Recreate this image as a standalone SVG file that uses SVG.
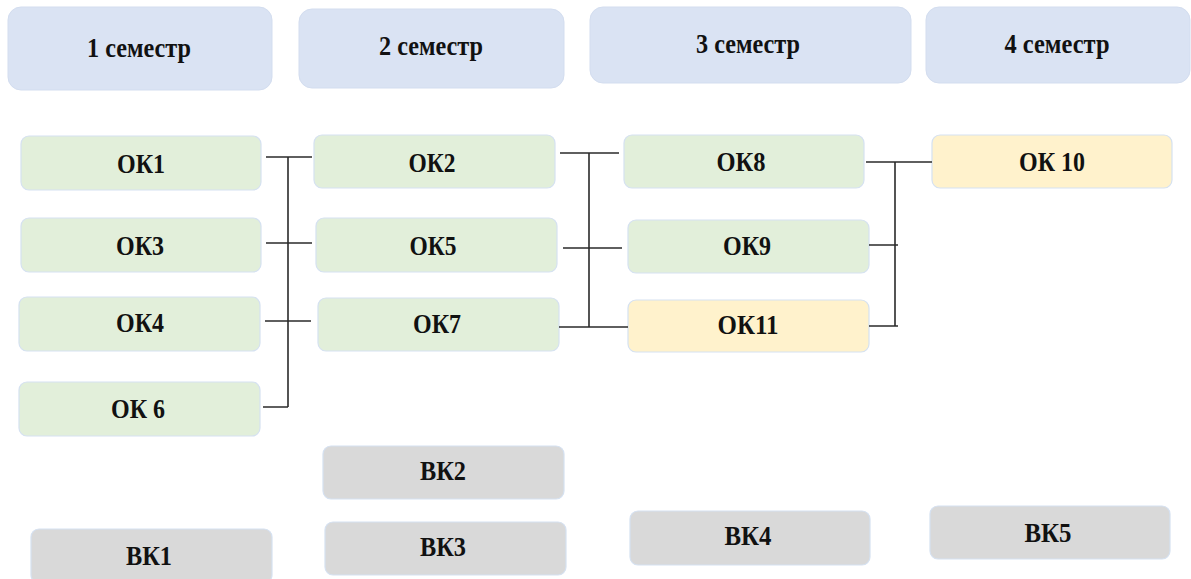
<svg xmlns="http://www.w3.org/2000/svg" width="1191" height="579" viewBox="0 0 1191 579">
<style>
.hdr{fill:#DAE3F3;stroke:#D3DDEF;stroke-width:1}
.ok{fill:#E2EFDA;stroke:#D5E1F1;stroke-width:1.2}
.yl{fill:#FFF2CC;stroke:#D5E1F1;stroke-width:1.2}
.vk{fill:#D9D9D9;stroke:#D5E1F1;stroke-width:1.2}
text{font-family:"Liberation Serif","DejaVu Serif",serif;font-weight:bold;font-size:27px;fill:#111;text-anchor:middle}
.ln{stroke:#2b2b2b;stroke-width:1.6;fill:none}
</style>
<rect width="1191" height="579" fill="#ffffff"/>
<g id="sem1"><rect class="hdr" x="8" y="7" width="264" height="83" rx="13"/><text x="139" y="57" textLength="104" lengthAdjust="spacingAndGlyphs">1 семестр</text></g>
<g id="sem2"><rect class="hdr" x="299" y="9" width="265" height="79" rx="13"/><text x="431" y="55" textLength="104" lengthAdjust="spacingAndGlyphs">2 семестр</text></g>
<g id="sem3"><rect class="hdr" x="590" y="7" width="321" height="76" rx="13"/><text x="748" y="53" textLength="104" lengthAdjust="spacingAndGlyphs">3 семестр</text></g>
<g id="sem4"><rect class="hdr" x="926" y="7" width="264" height="76" rx="13"/><text x="1057" y="53" textLength="105" lengthAdjust="spacingAndGlyphs">4 семестр</text></g>

<g id="ok1"><rect class="ok" x="21" y="136" width="240" height="54" rx="8"/><text x="141" y="173" textLength="48" lengthAdjust="spacingAndGlyphs">ОК1</text></g>
<g id="ok3"><rect class="ok" x="21" y="218" width="240" height="54" rx="8"/><text x="140" y="255" textLength="48" lengthAdjust="spacingAndGlyphs">ОК3</text></g>
<g id="ok4"><rect class="ok" x="19" y="297" width="241" height="54" rx="8"/><text x="140" y="332" textLength="48" lengthAdjust="spacingAndGlyphs">ОК4</text></g>
<g id="ok6"><rect class="ok" x="19" y="382" width="241" height="54" rx="8"/><text x="138" y="418" textLength="54" lengthAdjust="spacingAndGlyphs">ОК 6</text></g>
<g id="vk1"><rect class="vk" x="31" y="529" width="241" height="54" rx="8"/><text x="149" y="565" textLength="46" lengthAdjust="spacingAndGlyphs">ВК1</text></g>

<g id="ok2"><rect class="ok" x="314" y="135" width="241" height="53" rx="8"/><text x="432" y="172" textLength="47" lengthAdjust="spacingAndGlyphs">ОК2</text></g>
<g id="ok5"><rect class="ok" x="316" y="218" width="241" height="54" rx="8"/><text x="433" y="255" textLength="47" lengthAdjust="spacingAndGlyphs">ОК5</text></g>
<g id="ok7"><rect class="ok" x="318" y="298" width="241" height="53" rx="8"/><text x="437" y="333" textLength="48" lengthAdjust="spacingAndGlyphs">ОК7</text></g>
<g id="vk2"><rect class="vk" x="323" y="446" width="241" height="53" rx="8"/><text x="443" y="480" textLength="46" lengthAdjust="spacingAndGlyphs">ВК2</text></g>
<g id="vk3"><rect class="vk" x="325" y="522" width="241" height="53" rx="8"/><text x="443" y="556" textLength="46" lengthAdjust="spacingAndGlyphs">ВК3</text></g>

<g id="ok8"><rect class="ok" x="624" y="135" width="240" height="53" rx="8"/><text x="741" y="171" textLength="49" lengthAdjust="spacingAndGlyphs">ОК8</text></g>
<g id="ok9"><rect class="ok" x="628" y="220" width="241" height="53" rx="8"/><text x="747" y="255" textLength="48" lengthAdjust="spacingAndGlyphs">ОК9</text></g>
<g id="ok11"><rect class="yl" x="628" y="300" width="241" height="52" rx="8"/><text x="748" y="334" textLength="61" lengthAdjust="spacingAndGlyphs">ОК11</text></g>
<g id="vk4"><rect class="vk" x="630" y="511" width="240" height="54" rx="8"/><text x="748" y="545" textLength="47" lengthAdjust="spacingAndGlyphs">ВК4</text></g>

<g id="ok10"><rect class="yl" x="932" y="135" width="240" height="53" rx="8"/><text x="1052" y="171" textLength="66" lengthAdjust="spacingAndGlyphs">ОК 10</text></g>
<g id="vk5"><rect class="vk" x="930" y="506" width="240" height="53" rx="8"/><text x="1048" y="542" textLength="47" lengthAdjust="spacingAndGlyphs">ВК5</text></g>

<g id="connectors">
<path class="ln" d="M266 157H312 M266 243H312 M265 321H311 M263 407H288 M288 157V407"/>
<path class="ln" d="M560 153H619 M563 248H622 M559 327H628 M589 153V327"/>
<path class="ln" d="M866 162H932 M869 245H898 M869 326H898 M895 162V326"/>
</g>
</svg>
